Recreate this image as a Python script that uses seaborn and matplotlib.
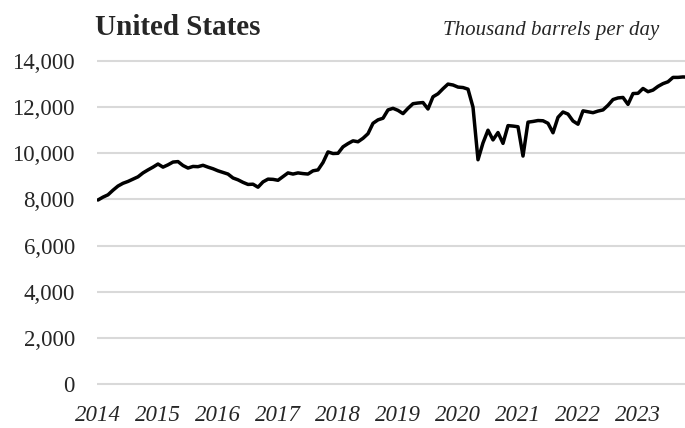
###################################################################################################
# Required Libraries
###################################################################################################
import numpy as np
import pandas as pd
import matplotlib
matplotlib.use("Agg")
import matplotlib.pyplot as plt
import seaborn as sns

###################################################################################################
# Data (thousand barrels per day, monthly, Jan 2014 - Dec 2023)
###################################################################################################
years = [2014, 2015, 2016, 2017, 2018, 2019, 2020, 2021, 2022, 2023]

prod_2014 = [7975, 8100, 8200, 8400, 8580, 8700, 8780, 8880, 8980, 9150, 9280, 9400]
prod_2015 = [9535, 9400, 9500, 9620, 9640, 9470, 9360, 9430, 9420, 9480, 9400, 9330]
prod_2016 = [9240, 9170, 9100, 8930, 8850, 8740, 8650, 8660, 8530, 8760, 8880, 8870]
prod_2017 = [8830, 8990, 9150, 9100, 9150, 9120, 9100, 9240, 9280, 9600, 10060, 9990]
prod_2018 = [10000, 10280, 10420, 10540, 10500, 10650, 10850, 11300, 11450, 11520, 11880, 11950]
prod_2019 = [11860, 11720, 11950, 12150, 12180, 12200, 11920, 12450, 12580, 12800, 13000, 12960]
prod_2020 = [12870, 12850, 12780, 12000, 9720, 10450, 11000, 10580, 10900, 10430, 11200, 11180]
prod_2021 = [11150, 9880, 11350, 11380, 11420, 11410, 11300, 10890, 11560, 11790, 11700, 11400]
prod_2022 = [11260, 11840, 11800, 11760, 11830, 11880, 12080, 12330, 12400, 12420, 12120, 12590]
prod_2023 = [12600, 12810, 12670, 12740, 12900, 13020, 13100, 13290, 13290, 13310, 13300, 13300]

y_ticks = [0, 2000, 4000, 6000, 8000, 10000, 12000, 14000]

title_text = "United States"
unit_text = "Thousand barrels per day"

###################################################################################################
# build the dataframe
###################################################################################################
def BuildFrame():
    values = (prod_2014 + prod_2015 + prod_2016 + prod_2017 + prod_2018 +
              prod_2019 + prod_2020 + prod_2021 + prod_2022 + prod_2023)
    df = pd.DataFrame({"month": np.arange(len(values)), "production": values})
    return df

###################################################################################################
# draw the chart
###################################################################################################
def DrawChart(df):
    sns.set_theme(style="white")
    plt.rcParams['font.family'] = ['Liberation Serif', 'DejaVu Serif']

    fig = plt.figure(figsize=(6.85, 4.28), dpi=100)
    ax = fig.add_axes([0.1416, 0.0867, 0.8584, 0.7869])

    sns.lineplot(data=df, x="month", y="production", ax=ax,
                 color="black", linewidth=2.5)

    ax.set_ylim(-300, 14300)
    ax.set_xlim(-0.2, 117.4)
    ax.set_yticks(y_ticks)
    ax.set_yticklabels([f"{v:,}" for v in y_ticks], fontsize=16.5)
    ax.set_xticks([12 * i for i in range(len(years))])
    ax.set_xticklabels([str(y) for y in years], fontsize=16.5, style="italic")
    ax.tick_params(axis="y", length=0, pad=16)
    ax.tick_params(axis="x", length=0, pad=10)

    ax.yaxis.grid(True, color="#d9d9d9", linewidth=1.5)
    ax.xaxis.grid(False)
    ax.set_axisbelow(True)
    for s in ax.spines.values():
        s.set_visible(False)
    ax.set_xlabel("")
    ax.set_ylabel("")

    fig.text(0.139, 0.918, title_text, fontsize=21, fontweight="bold", va="baseline")
    fig.text(0.962, 0.918, unit_text, fontsize=15, style="italic", ha="right", va="baseline")

    fig.savefig("out.png", dpi=100)

###################################################################################################
# main
###################################################################################################
def main():
    df = BuildFrame()
    DrawChart(df)

if __name__ == "__main__":
    main()
